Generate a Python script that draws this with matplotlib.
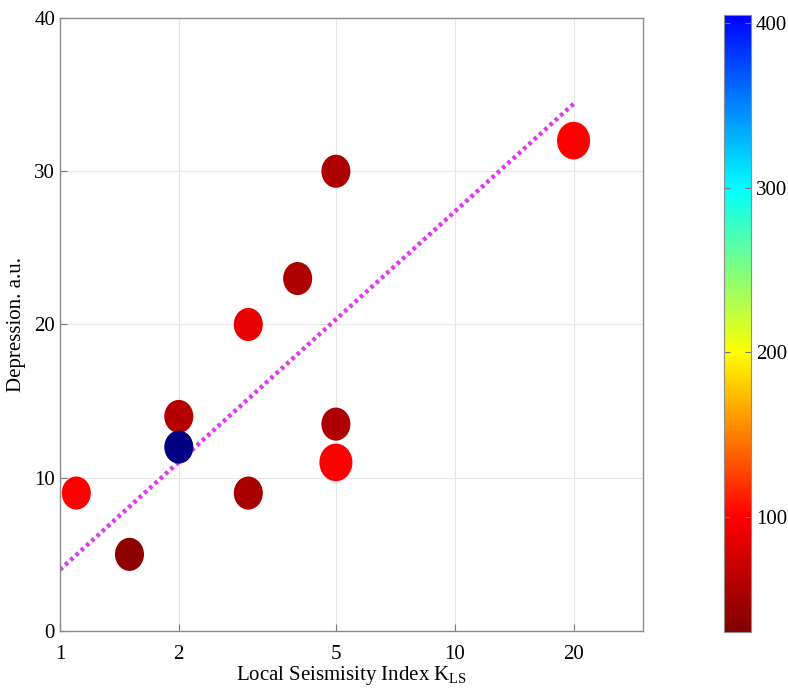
import numpy as np
import matplotlib
matplotlib.use('Agg')
import matplotlib.pyplot as plt
from matplotlib.colors import LinearSegmentedColormap, Normalize
from matplotlib.markers import MarkerStyle
from matplotlib.transforms import Affine2D

plt.rcParams['font.family'] = ['Liberation Serif', 'DejaVu Serif']

# data
kls = [1.1, 1.5, 2, 2, 3, 3, 4, 5, 5, 5, 20]
depression = [9, 5, 14, 12, 20, 9, 23, 30, 13.5, 11, 32]
color_val = [100, 38, 60, 450, 88, 52, 56, 56, 56, 100, 100]
sizes = [437, 437, 437, 437, 437, 437, 437, 437, 437, 566, 566]

# fitted line end points
fit_x = [1, 20]
fit_y = [4.0, 34.4]

x_ticks = [1, 2, 5, 10, 20]
y_ticks = [0, 10, 20, 30, 40]
cb_ticks = [100, 200, 300, 400]

# colour scale as on the colorbar: dark red, red, yellow, cyan, blue
vmin, vmax = 30, 405
cb_vals = [30, 100, 200, 300, 400, 405]
cb_cols = [(0.5, 0, 0), (1, 0, 0), (1, 1, 0), (0, 1, 1), (0, 0.05, 1), (0, 0, 1)]
cmap = LinearSegmentedColormap.from_list(
    'jetlike', [((v - vmin) / (vmax - vmin), c) for v, c in zip(cb_vals, cb_cols)])
cmap.set_over((0, 0, 0.5))
norm = Normalize(vmin=vmin, vmax=vmax)

fig = plt.figure(figsize=(7.88, 6.93), dpi=100)
ax = fig.add_axes([0.0761, 0.0895, 0.740, 0.8845])
cax = fig.add_axes([0.919, 0.088, 0.0343, 0.890])

ax.set_xscale('log')
ax.set_xlim(1, 30)
ax.set_ylim(0, 40)
ax.grid(True, color='#e6e6e6', linewidth=0.8)
ax.set_axisbelow(True)

ax.plot(fit_x, fit_y, linestyle=(0, (0.8, 0.8)), color='#e03af0', linewidth=3.2, zorder=2)

marker = MarkerStyle('o', transform=Affine2D().scale(1.0, 1.14))
sc = ax.scatter(kls, depression, c=color_val, s=sizes, cmap=cmap, norm=norm,
                marker=marker, edgecolors='none', zorder=3)

ax.set_xticks(x_ticks)
ax.set_xticklabels([str(t) for t in x_ticks])
ax.xaxis.set_minor_locator(plt.NullLocator())
ax.set_yticks(y_ticks)
ax.tick_params(direction='in', length=5, width=0.8, color='#777777',
               labelsize=15, top=False, right=False)
ax.tick_params(axis='x', pad=10)
for sp in ax.spines.values():
    sp.set_color('#8c8c8c')
    sp.set_linewidth(1.0)

ax.set_xlabel('Local Seismisity Index K$_\\mathregular{LS}$', fontsize=15, labelpad=0)
ax.set_ylabel('Depression. a.u.', fontsize=15, labelpad=6)

cb = fig.colorbar(sc, cax=cax)
cb.set_ticks(cb_ticks)
cb.ax.tick_params(direction='in', length=4, width=0.8, color='#777777',
                  labelsize=15, left=True, right=True)
cb.outline.set_edgecolor('#8c8c8c')
cb.outline.set_linewidth(0.8)

fig.savefig('out.png', dpi=100)
